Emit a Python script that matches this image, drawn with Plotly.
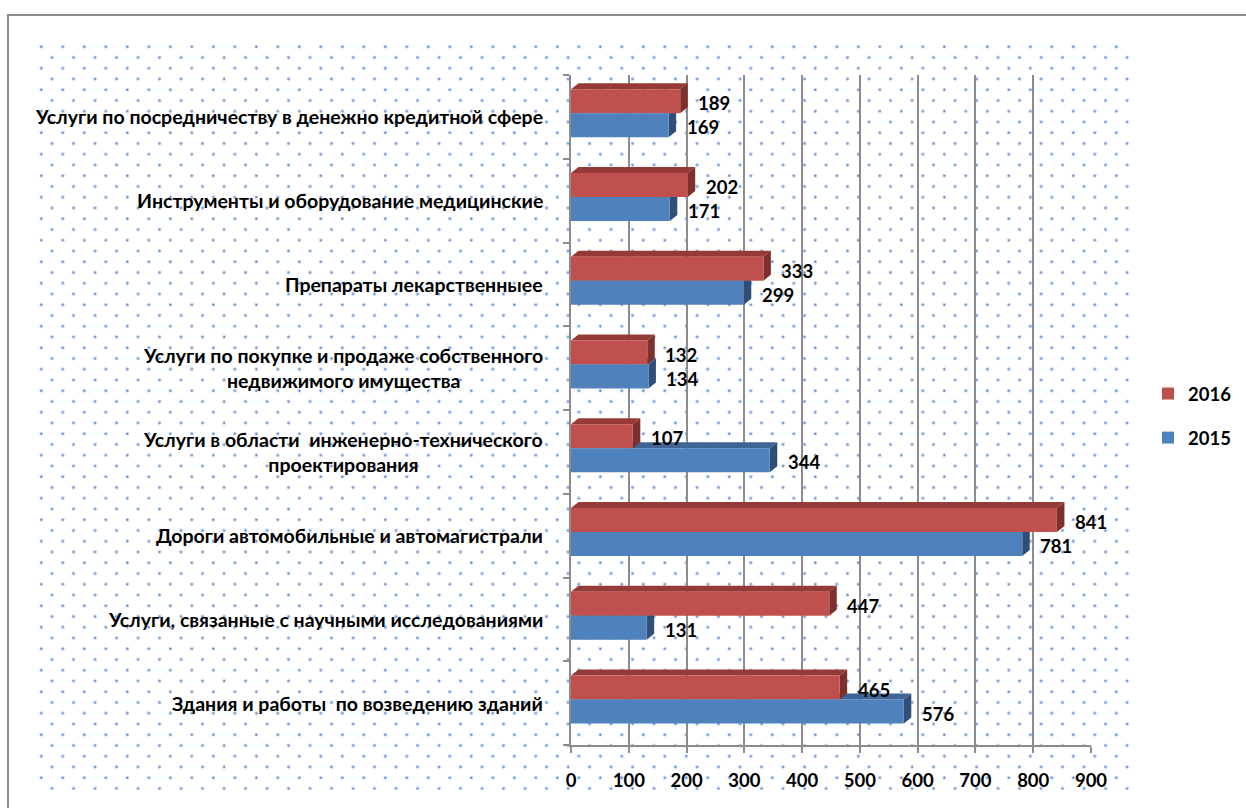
import base64
import plotly.graph_objects as go

# ---------------- data ----------------
categories = [
    "Здания и работы  по возведению зданий",
    "Услуги, связанные с научными исследованиями",
    "Дороги автомобильные и автомагистрали",
    "Услуги в области  инженерно-технического<br>проектирования",
    "Услуги по покупке и продаже собственного<br>недвижимого имущества",
    "Препараты лекарственныее",
    "Инструменты и оборудование медицинские",
    "Услуги по посредничеству в денежно кредитной сфере",
]
values_2016 = [465, 447, 841, 107, 132, 333, 202, 189]
values_2015 = [576, 131, 781, 344, 134, 299, 171, 169]
x_ticks = [0, 100, 200, 300, 400, 500, 600, 700, 800, 900]

# ---------------- geometry / style ----------------
W, H = 1246, 808
PL, PR, PT, PB = 571, 1091, 75, 745          # plot area in pixels
XMAX = 900
NCAT = len(categories)
px_per_x = (PR - PL) / XMAX
px_per_cat = (PB - PT) / NCAT

def px2paper_x(X):
    return (X - PL) / (PR - PL)

def px2paper_y(Y):
    return (PB - Y) / (PB - PT)

RED, RED_TOP, RED_SIDE = "#C0504D", "#953A37", "#7E302E"
BLUE, BLUE_TOP, BLUE_SIDE = "#4F81BD", "#3D6596", "#2F4F78"
FONT = "Lato, 'Open Sans', sans-serif"

bar_w = 24 / px_per_cat           # bar thickness in category units
shift = 3.6 / px_per_cat          # groups sit slightly above band centre
dx = 7.5 / px_per_x               # 3D depth (x units)
dy = 6.0 / px_per_cat             # 3D depth (category units)

fig = go.Figure()

fig.add_trace(go.Bar(
    y=categories, x=values_2016, orientation="h", name="2016",
    marker=dict(color=RED, line=dict(width=0)),
    width=bar_w, offset=shift, legendgroup="a",
))
fig.add_trace(go.Bar(
    y=categories, x=values_2015, orientation="h", name="2015",
    marker=dict(color=BLUE, line=dict(width=0)),
    width=bar_w, offset=shift - bar_w, legendgroup="b",
))

# 3D faces (top + right side) computed from the data values
shapes = []
for series, off, top_c, side_c in [(values_2015, shift - bar_w, BLUE_TOP, BLUE_SIDE),
                                   (values_2016, shift, RED_TOP, RED_SIDE)]:
    for i, v in enumerate(series):
        y0 = i + off
        y1 = y0 + bar_w
        top = f"M 0 {y1} L {v} {y1} L {v+dx} {y1+dy} L {dx} {y1+dy} Z"
        side = f"M {v} {y0} L {v} {y1} L {v+dx} {y1+dy} L {v+dx} {y0+dy} Z"
        shapes.append(dict(type="path", path=top, xref="x", yref="y",
                           fillcolor=top_c, line=dict(width=0), layer="between"))
        shapes.append(dict(type="path", path=side, xref="x", yref="y",
                           fillcolor=side_c, line=dict(width=0), layer="between"))

# outer frame (top and left edges visible)
shapes.append(dict(type="rect", xref="paper", yref="paper",
                   x0=px2paper_x(8), x1=px2paper_x(W + 20),
                   y0=px2paper_y(H + 20), y1=px2paper_y(15),
                   line=dict(color="#8C8C8C", width=2), layer="below"))

# data labels
annotations = []
for series, yoff in [(values_2016, shift + bar_w / 2), (values_2015, shift - bar_w / 2)]:
    for i, v in enumerate(series):
        annotations.append(dict(
            x=v, y=categories[i], xref="x", yref="y", text=f"<b>{v}</b>",
            showarrow=False, xanchor="left", yanchor="middle",
            xshift=16, yshift=yoff * px_per_cat - 2,
            font=dict(family=FONT, size=18.5, color="black"),
        ))

# category labels (centred multi-line, right aligned block)
for c in categories:
    annotations.append(dict(
        x=px2paper_x(545), y=c, xref="paper", yref="y", text=f"<b>{c}</b>",
        showarrow=False, xanchor="right", yanchor="middle", align="center",
        font=dict(family=FONT, size=19.5, color="black"),
    ))

# dotted background pattern as an inline SVG image
DX0, DY0, DX1, DY1 = 38, 44, 1131, 790
dw, dh = DX1 - DX0, DY1 - DY0
svg = (
    f'<svg xmlns="http://www.w3.org/2000/svg" width="{dw}" height="{dh}" viewBox="0 0 {dw} {dh}">'
    '<defs><pattern id="p" x="0" y="0" width="21.5" height="21.5" patternUnits="userSpaceOnUse">'
    '<circle cx="3.3" cy="2.7" r="1.9" fill="#C9D9F0"/><circle cx="3.3" cy="2.7" r="1.1" fill="#5A8AD0"/>'
    '<circle cx="14.05" cy="13.45" r="1.9" fill="#C9D9F0"/><circle cx="14.05" cy="13.45" r="1.1" fill="#5A8AD0"/>'
    '</pattern></defs><rect width="100%" height="100%" fill="url(#p)"/></svg>'
)
img_src = "data:image/svg+xml;base64," + base64.b64encode(svg.encode()).decode()

fig.update_layout(
    width=W, height=H,
    margin=dict(l=PL, r=W - PR, t=PT, b=H - PB, autoexpand=False),
    paper_bgcolor="white",
    plot_bgcolor="rgba(0,0,0,0)",
    barmode="overlay",
    font=dict(family=FONT, color="black"),
    shapes=shapes,
    annotations=annotations,
    images=[dict(source=img_src, xref="paper", yref="paper",
                 x=px2paper_x(DX0), y=px2paper_y(DY0),
                 sizex=dw / (PR - PL), sizey=dh / (PB - PT),
                 xanchor="left", yanchor="top", sizing="stretch", layer="below")],
    legend=dict(
        traceorder="grouped", x=px2paper_x(1148), xanchor="left",
        y=px2paper_y(416), yanchor="middle", tracegroupgap=17,
        font=dict(family=FONT, size=18.5, color="black", weight="bold"),
        bgcolor="rgba(0,0,0,0)",
    ),
    showlegend=True,
)

fig.update_xaxes(
    range=[0, XMAX], tickvals=x_ticks, ticktext=[f"<b>{t}</b>" for t in x_ticks],
    showgrid=True, gridcolor="#8C8C8C", gridwidth=2,
    showline=True, linecolor="#8C8C8C", linewidth=2,
    ticks="outside", ticklen=6, tickcolor="#8C8C8C", tickwidth=2,
    zeroline=False, ticklabelstandoff=12,
    tickfont=dict(family=FONT, size=18.5, color="black"),
)
fig.update_yaxes(
    type="category", categoryorder="array", categoryarray=categories,
    range=[-0.5, NCAT - 0.5], showticklabels=False,
    showgrid=False, showline=True, linecolor="#8C8C8C", linewidth=2,
    ticks="outside", tickson="boundaries", ticklen=6, tickcolor="#8C8C8C", tickwidth=2,
    zeroline=False,
)

fig.write_html("out.html")
